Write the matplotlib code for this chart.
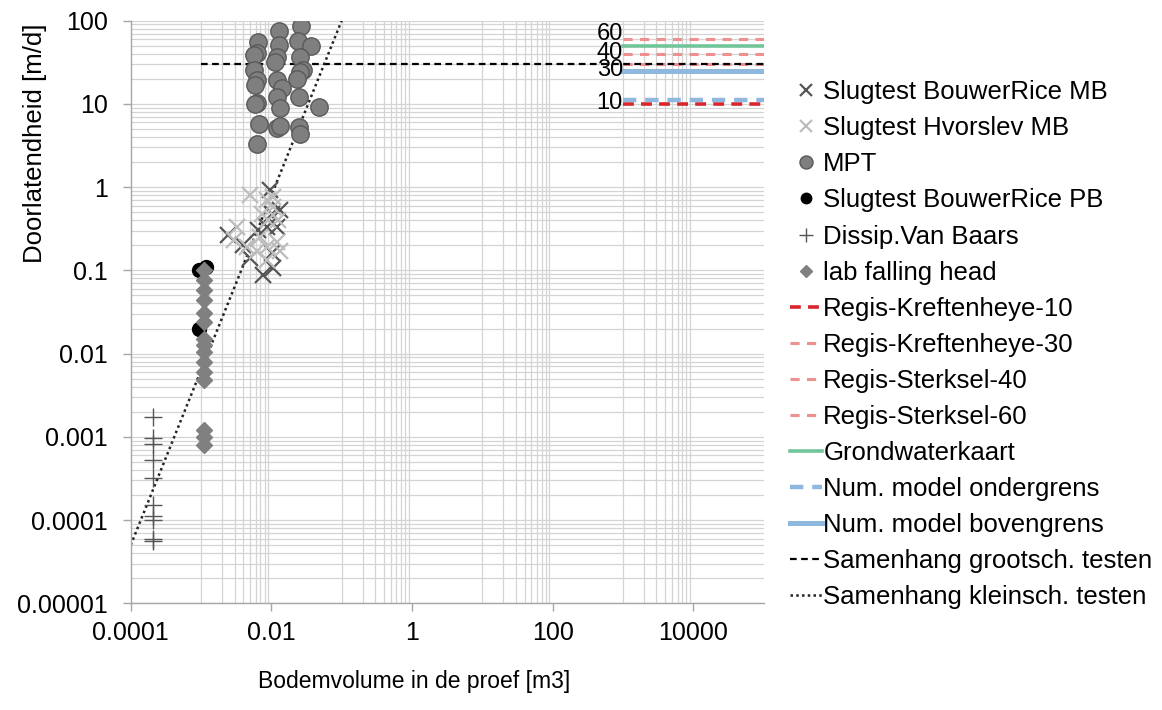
import matplotlib
matplotlib.use("Agg")
import matplotlib.pyplot as plt
import numpy as np
from matplotlib.ticker import FixedLocator, LogLocator, NullFormatter

plt.rcParams["font.family"] = ["Liberation Sans", "DejaVu Sans"]

# Slugtest BouwerRice MB
br_mb_x = [0.00244, 0.0040, 0.0050, 0.0077, 0.0107, 0.0096, 0.0065, 0.0086, 0.0119, 0.0101, 0.0133, 0.0101]
br_mb_y = [0.265, 0.20, 0.139, 0.088, 0.106, 0.92, 0.305, 0.334, 0.334, 0.48, 0.53, 0.16]
# Slugtest Hvorslev MB
hv_mb_x = [0.0050, 0.0029, 0.0032, 0.0086, 0.0107, 0.0073, 0.0091, 0.0125, 0.0069, 0.0086,
           0.0119, 0.0062, 0.0133, 0.0045, 0.0107, 0.0086]
hv_mb_y = [0.80, 0.23, 0.334, 0.70, 0.58, 0.48, 0.40, 0.40, 0.25, 0.19,
           0.22, 0.17, 0.17, 0.19, 0.77, 0.133]
# MPT
mpt_x = [0.0129, 0.0262, 0.0065, 0.0242, 0.0367, 0.0129, 0.0062, 0.0057, 0.0119, 0.0256,
         0.0113, 0.0056, 0.0285, 0.0256, 0.0230, 0.0062, 0.0059, 0.0122, 0.0141, 0.0122,
         0.0245, 0.0063, 0.0059, 0.0133, 0.0478, 0.0067, 0.0122, 0.0133, 0.0250, 0.0256,
         0.0063]
mpt_y = [76, 86, 56, 57.5, 50, 51, 40.6, 38.7, 37, 37,
         32, 25.5, 25.5, 24.4, 20, 19.4, 16.9, 19.4, 15.4, 12,
         12, 10.3, 10, 9, 9.2, 5.8, 5.1, 5.4, 5.3, 4.3,
         3.3]
# Slugtest BouwerRice PB
br_pb_x = [0.00095, 0.00118, 0.00095]
br_pb_y = [0.1, 0.11, 0.02]
# Dissip. Van Baars
vb_x = [0.00021] * 10
vb_y = [0.00171, 0.00098, 0.00083, 0.000525, 0.00032, 0.00015, 0.000111, 0.0001, 0.00006, 0.000056]
# lab falling head
lab_x = [0.0011] * 15
lab_y = [0.1, 0.076, 0.058, 0.044, 0.031, 0.024, 0.015, 0.0126, 0.0105, 0.008,
         0.006, 0.0048, 0.0012, 0.001, 0.0008]

# reference levels (m/d) shown from 1000 to 1e5 m3
ref_x = [1000, 1e5]
regis_k10 = 10
regis_k30 = 30
regis_s40 = 40
regis_s60 = 60
grondwaterkaart = 50
num_onder = 11
num_boven = 25
level_labels = ["60", "40", "30", "10"]
level_label_y = [70, 40.6, 25.5, 10.3]

# trend lines
groot_x = [0.001, 1e5]
groot_y = [30, 30]
klein_x = [1e-4, 0.1]
klein_y = [5e-5, 100]

fig = plt.figure(figsize=(11.62, 7.10), dpi=100)
ax = fig.add_axes([0.1125, 0.1503, 0.5446, 0.8206])

ax.set_xscale("log")
ax.set_yscale("log")
ax.set_xlim(1e-4, 1e5)
ax.set_ylim(1e-5, 100)

# gridlines: x only in alternating decades, y everywhere
grid_c = "#d4d4d4"
xminor = [k * 10.0 ** n for n in (-3, -1, 1, 3) for k in range(1, 10)]
ax.xaxis.set_major_locator(FixedLocator([1e-4, 1e-2, 1, 100, 1e4]))
ax.xaxis.set_minor_locator(FixedLocator(xminor))
ax.xaxis.set_minor_formatter(NullFormatter())
ax.set_xticklabels(["0.0001", "0.01", "1", "100", "10000"])
ax.yaxis.set_major_locator(FixedLocator([1e-5, 1e-4, 1e-3, 1e-2, 0.1, 1, 10, 100]))
ax.yaxis.set_minor_locator(LogLocator(base=10, subs=np.arange(2, 10), numticks=20))
ax.yaxis.set_minor_formatter(NullFormatter())
ax.set_yticklabels(["0.00001", "0.0001", "0.001", "0.01", "0.1", "1", "10", "100"])
ax.grid(True, which="minor", axis="x", color=grid_c, lw=0.9)
ax.grid(True, which="both", axis="y", color=grid_c, lw=0.9)
ax.set_axisbelow(True)

for s in ("top", "right"):
    ax.spines[s].set_visible(False)
for s in ("left", "bottom"):
    ax.spines[s].set_color("#a6a6a6")
    ax.spines[s].set_linewidth(1.0)
ax.tick_params(which="major", length=5.5, width=1, color="#a6a6a6", labelsize=18)
ax.tick_params(which="minor", length=0)
ax.tick_params(axis="x", pad=7)
ax.tick_params(axis="y", pad=11)

# reference lines
ax.plot(ref_x, [regis_k10] * 2, color="#d9252b", lw=2.6, ls=(0, (3, 2)), label="Regis-Kreftenheye-10")
ax.plot(ref_x, [regis_k30] * 2, color="#ee9090", lw=2.2, ls=(0, (3, 2.4)), label="Regis-Kreftenheye-30")
ax.plot(ref_x, [regis_s40] * 2, color="#ee9090", lw=2.2, ls=(0, (3, 2.4)), label="Regis-Sterksel-40")
ax.plot(ref_x, [regis_s60] * 2, color="#ee9090", lw=2.2, ls=(0, (3, 2.4)), label="Regis-Sterksel-60")
ax.plot(ref_x, [grondwaterkaart] * 2, color="#72c59b", lw=2.6, label="Grondwaterkaart")
ax.plot(ref_x, [num_onder] * 2, color="#8fb8de", lw=3.2, ls=(0, (3, 2)), label="Num. model ondergrens")
ax.plot(ref_x, [num_boven] * 2, color="#8fb8de", lw=3.6, label="Num. model bovengrens")
ax.plot(groot_x, groot_y, color="black", lw=1.6, ls=(0, (3, 2)), label="Samenhang grootsch. testen")
ax.plot(klein_x, klein_y, color="#222222", lw=1.8, ls=(0, (1, 1.3)), label="Samenhang kleinsch. testen")

for txt, yy in zip(level_labels, level_label_y):
    ax.text(1000, yy, txt, ha="right", va="center", fontsize=17)

# measurements
ax.plot(br_mb_x, br_mb_y, ls="none", marker="x", ms=12, mew=1.6, color="#555555",
        label="Slugtest BouwerRice MB")
ax.plot(hv_mb_x, hv_mb_y, ls="none", marker="x", ms=12, mew=1.6, color="#bdbdbd",
        label="Slugtest Hvorslev MB")
ax.plot(mpt_x, mpt_y, ls="none", marker="o", ms=12.5, mfc="#7f7f7f", mec="#595959", mew=1.0,
        label="MPT")
ax.plot(br_pb_x, br_pb_y, ls="none", marker="o", ms=10, color="black",
        label="Slugtest BouwerRice PB")
ax.plot(vb_x, vb_y, ls="none", marker="+", ms=13, mew=1.0, color="#555555",
        label="Dissip.Van Baars")
ax.plot(lab_x, lab_y, ls="none", marker="D", ms=8, color="#808080",
        label="lab falling head")

ax.set_xlabel("Bodemvolume in de proef [m3]", fontsize=16.5)
ax.xaxis.set_label_coords(0.448, -0.1145)
ax.set_ylabel("Doorlatendheid [m/d]", fontsize=18.5)
ax.yaxis.set_label_coords(-0.133, 0.79)

handles, labels = ax.get_legend_handles_labels()
order = ["Slugtest BouwerRice MB", "Slugtest Hvorslev MB", "MPT", "Slugtest BouwerRice PB",
         "Dissip.Van Baars", "lab falling head", "Regis-Kreftenheye-10", "Regis-Kreftenheye-30",
         "Regis-Sterksel-40", "Regis-Sterksel-60", "Grondwaterkaart", "Num. model ondergrens",
         "Num. model bovengrens", "Samenhang grootsch. testen", "Samenhang kleinsch. testen"]
hmap = dict(zip(labels, handles))
fig.legend([hmap[k] for k in order], order, loc="upper left", bbox_to_anchor=(0.68, 0.887),
           frameon=False, fontsize=18.5, handlelength=1.24, handletextpad=0.05,
           labelspacing=0.47, markerscale=0.75, borderpad=0, borderaxespad=0)

fig.savefig("out.png", dpi=100)
